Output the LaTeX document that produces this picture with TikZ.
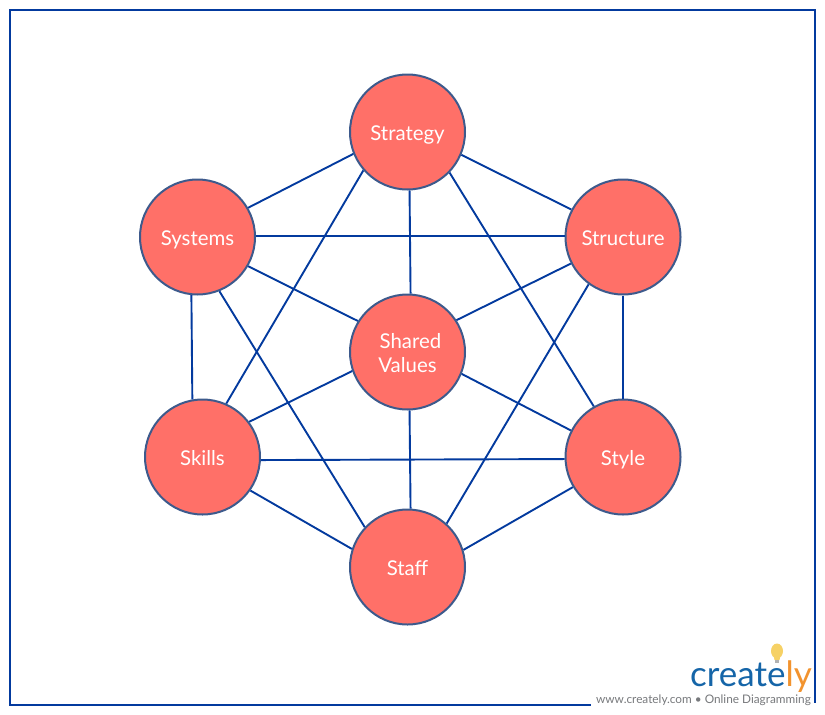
\documentclass[tikz,border=0pt]{standalone}
\usepackage{fontspec}
\setmainfont{Lato}
\usetikzlibrary{positioning}
\definecolor{coral}{HTML}{FF7068}
\definecolor{rimblue}{HTML}{3D5A8C}
\definecolor{linkblue}{HTML}{033A9E}
\definecolor{logoblue}{HTML}{1565A8}
\definecolor{logoorange}{HTML}{F2932E}
\definecolor{bulbyellow}{HTML}{F6D165}
\definecolor{tagrey}{HTML}{77797C}

\begin{document}
\begin{tikzpicture}[
        x=1pt, y=-1pt,
        element/.style={circle, draw=rimblue, fill=coral, line width=2pt, minimum size=115pt, inner sep=0pt, align=center, text=white, text height=18pt, text depth=2pt, font=\fontsize{20.4}{24}\selectfont},
        link/.style={draw=linkblue, line width=1.9pt}
    ]
    \useasboundingbox (0,0) rectangle (825,715);
    \node[draw=linkblue, line width=2pt, minimum width=805pt, minimum height=695pt, inner sep=0pt] (border) at (412.5,357.5) {};

    % the seven elements
    \node[element] (strategy) at (407.5,132) {Strategy};
    \node[element] (structure) at (623,237) {Structure};
    \node[element] (style) at (623,457) {Style};
    \node[element] (staff) at (407.5,567) {Staff};
    \node[element] (skills) at (202.5,457) {Skills};
    \node[element] (systems) at (197.5,237) {Systems};
    \node[element, text height=44pt, text depth=4pt] (shared) at (407.5,352) {\hspace*{6pt}Shared\\Values};

    \draw[link] (strategy.202.5) -- (systems.30.4);
    \draw[link] (strategy.337.5) -- (structure.152.6);
    \draw[link] (strategy.272.5) -- (shared.87.5);
    \draw[link] (strategy.221.8) -- (skills.66.6);
    \draw[link] (strategy.316) -- (style.120.8);
    \draw[link] (systems.1) -- (structure.179);
    \draw[link] (systems.330) -- (shared.148.8);
    \draw[link] (structure.207.4) -- (shared.33.4);
    \draw[link] (systems.264.4) -- (skills.100.4);
    \draw[link] (systems.292) -- (staff.137.5);
    \draw[link] (structure.270) -- (style.90);
    \draw[link] (structure.234.7) -- (staff.48.9);
    \draw[link] (shared.199.2) -- (skills.37.6);
    \draw[link] (shared.338) -- (style.153);
    \draw[link] (shared.272.5) -- (staff.87.5);
    \draw[link] (skills.357) -- (style.182.5);
    \draw[link] (skills.325.2) -- (staff.162);
    \draw[link] (style.211) -- (staff.17.7);

    % logo in the corner
    \fill[white] (591,692) rectangle (814,715);
    \fill[white] (591,703) rectangle (825,715);
    \node[inner sep=0pt, anchor=base east, font=\fontsize{35}{36}\selectfont] (logo) at (812,686) {\textcolor{logoblue}{create}\textcolor{logoorange}{ly}};
    \node[inner sep=0pt, anchor=base east, text=tagrey, font=\fontsize{11.8}{14}\selectfont] (tagline) at (811,703) {www.creately.com • Online Diagramming};
    \fill[bulbyellow] (777,651) ellipse (6pt and 7.5pt);
    \fill[bulbyellow] (773.5,655) -- (780.5,655) -- (779.5,660) -- (774.5,660) -- cycle;
    \fill[gray!60] (775,660) rectangle (779,663);
\end{tikzpicture}
\end{document}
